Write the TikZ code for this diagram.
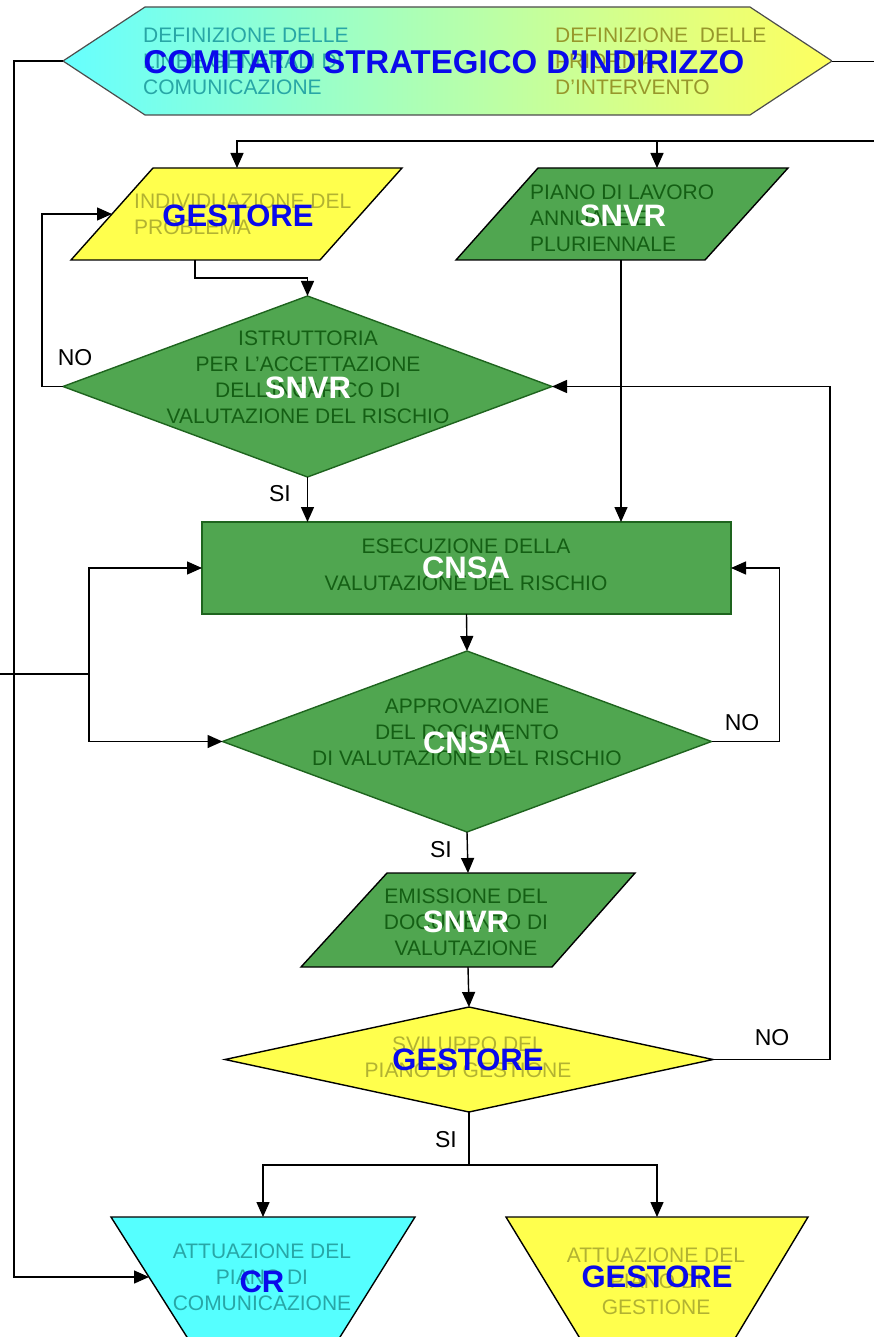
\documentclass[tikz,border=0pt]{standalone}
\usepackage{fontspec}
\setmainfont{Liberation Sans}
\usepackage{xcolor}
\usepackage{tikz}
\usetikzlibrary{positioning,shapes.geometric,shapes.symbols,arrows.meta}
\definecolor{azzurro}{RGB}{85,255,255}
\definecolor{giallo}{RGB}{255,255,77}
\definecolor{verde}{RGB}{80,166,80}
\definecolor{verdescuro}{RGB}{20,95,20}
\definecolor{bordoverde}{RGB}{30,100,30}
\definecolor{oliva}{RGB}{178,178,50}
\definecolor{petrolio}{RGB}{40,166,166}
\definecolor{blu}{RGB}{10,10,235}
\tikzset{
	linea/.style = {line width=1.4pt, draw=black},
	freccia/.style = {linea, -{Triangle[length=15pt,width=13pt]}},
	blocco/.style = {line width=1.4pt, draw=black, line join=miter},
	rombo/.style = {diamond, minimum width=489pt, minimum height=181pt, inner sep=0, outer sep=0, line width=1.4pt},
	esagono/.style = {signal, signal to=west and east, signal pointer angle=66.7, minimum width=769pt, minimum height=108pt, inner sep=0, outer sep=0, draw=black!70, line width=1.2pt},
	piccolo/.style = {font=\fontsize{21}{26}\selectfont, inner sep=0, align=center},
	grande/.style = {font=\fontsize{31}{36}\selectfont\bfseries, inner sep=0},
	etichetta/.style = {font=\fontsize{23}{26}\selectfont, inner sep=0}
}
\begin{document}
\begin{tikzpicture}[x=1pt, y=-1pt]
	\useasboundingbox (0,0) rectangle (874,1337);
	\clip (0,0) rectangle (874,1337);
	
	% comitato
	\node [esagono, left color=azzurro!90!white, right color=giallo!90!white] (0) at (447.5,61) {};
	\node [piccolo, align=left, anchor=west, text=petrolio] (0a) at (143,61) {DEFINIZIONE DELLE\\LINEE GENERALI DI\\COMUNICAZIONE};
	\node [piccolo, align=left, anchor=west, text=oliva!85!black] (0b) at (555,61) {DEFINIZIONE~ DELLE\\PRIORIT\`A\\D'INTERVENTO};
	\node [grande, font=\fontsize{33}{38}\selectfont\bfseries, text=blu] (0c) at (444,62) {COMITATO STRATEGICO D'INDIRIZZO};
	
	% prima riga
	\draw [blocco, fill=giallo] (71,260) -- (153,168) -- (402,168) -- (320,260) -- cycle;
	\coordinate (1n) at (237,168);
	\coordinate (1s) at (195,260);
	\coordinate (1w) at (112,214);
	\node [piccolo, align=left, anchor=west, text=oliva] (1a) at (134,214) {INDIVIDUAZIONE DEL\\PROBLEMA};
	\node [grande, text=blu] (1b) at (238,216) {GESTORE};
	\draw [blocco, fill=verde] (456,260) -- (538,168) -- (788,168) -- (705,260) -- cycle;
	\coordinate (2n) at (657,168);
	\coordinate (2s) at (621,260);
	\node [piccolo, align=left, anchor=west, text=verdescuro] (2a) at (530,218) {PIANO DI LAVORO\\ANNUALE E\\PLURIENNALE};
	\node [grande, text=white] (2b) at (623,216) {SNVR};
	
	% istruttoria
	\node [rombo, fill=verde, draw=bordoverde] (3) at (307.5,386.5) {};
	\node [piccolo, text=verdescuro] (3a) at (308,377) {ISTRUTTORIA\\PER L'ACCETTAZIONE\\DELL'INCARICO DI\\VALUTAZIONE DEL RISCHIO};
	\node [grande, text=white] (3b) at (308,388) {SNVR};
	
	% esecuzione
	\node [rectangle, fill=verde, draw=bordoverde, line width=1.8pt, minimum width=529pt, minimum height=92pt, inner sep=0, outer sep=0] (5) at (466.5,568) {};
	\node [piccolo, text=verdescuro] (5a) at (466,565) {ESECUZIONE DELLA\\[11pt]VALUTAZIONE DEL RISCHIO};
	\node [grande, text=white] (5b) at (466,568) {CNSA};
	
	% approvazione
	\node [rombo, fill=verde, draw=bordoverde] (6) at (467,741.5) {};
	\node [piccolo, text=verdescuro] (6a) at (467,732) {APPROVAZIONE\\DEL DOCUMENTO\\DI VALUTAZIONE DEL RISCHIO};
	\node [grande, text=white] (6b) at (467,743) {CNSA};
	
	% emissione
	\draw [blocco, fill=verde] (301,967) -- (387,873) -- (635,873) -- (552,967) -- cycle;
	\coordinate (7n) at (468,873);
	\coordinate (7s) at (468,967);
	\node [piccolo, text=verdescuro] (7a) at (466,922) {EMISSIONE DEL\\DOCUMENTO DI\\VALUTAZIONE};
	\node [grande, text=white] (7b) at (466,922) {SNVR};
	
	% sviluppo
	\node [rombo, fill=giallo, draw=black, minimum width=488pt, minimum height=105pt] (8) at (469,1059.5) {};
	\node [piccolo, text=oliva] (8a) at (468,1057) {SVILUPPO DEL\\PIANO DI GESTIONE};
	\node [grande, text=blu] (8b) at (468,1060) {GESTORE};
	
	% attuazione
	\draw [blocco, fill=azzurro] (111,1217) -- (415,1217) -- (335,1345) -- (192,1345) -- cycle;
	\coordinate (9n) at (263,1217);
	\coordinate (9w) at (149,1277);
	\node [piccolo, text=petrolio] (9a) at (262,1277) {ATTUAZIONE DEL\\PIANO DI\\COMUNICAZIONE};
	\node [grande, text=blu] (9b) at (262,1282) {CR};
	\draw [blocco, fill=giallo] (506,1217) -- (808,1217) -- (731,1345) -- (584,1345) -- cycle;
	\coordinate (10n) at (657,1217);
	\node [piccolo, text=oliva] (10a) at (656,1281) {ATTUAZIONE DEL\\PIANO DI\\GESTIONE};
	\node [grande, text=blu] (10b) at (657,1277) {GESTORE};
	
	% etichette
	\node [etichetta] (n1) at (75,358) {NO};
	\node [etichetta] (s1) at (280,494) {SI};
	\node [etichetta] (n2) at (742,723) {NO};
	\node [etichetta] (s2) at (441,850) {SI};
	\node [etichetta] (n3) at (772,1038) {NO};
	\node [etichetta] (s3) at (446,1140) {SI};
	
	% collegamenti
	\coordinate (dx0) at (874,61);
	\coordinate (dx1) at (874,141);
	\coordinate (sx0) at (0,674);
	\coordinate (sx1) at (89,674);
	\draw [line width=0.9pt, double, double distance=1pt] (0.east) -- (dx0);
	\draw [freccia] (dx1) -| (1n);
	\draw [freccia] (2n |- dx1) -- (2n);
	\draw [freccia] (1s) -- ++(0,18) -| (3.north);
	\draw [freccia] (3.west) -- ++(-21,0) |- (1w);
	\draw [freccia] (3.south) -- (3.south |- 5.north);
	\draw [freccia] (2s) -- (2s |- 5.north);
	\draw [freccia] (5.south) -- (6.north);
	\draw [freccia] (6.east) -- ++(68,0) |- (5.east);
	\draw [linea] (sx0) -- (sx1);
	\draw [freccia] (sx1) |- (5.west);
	\draw [freccia] (sx1) |- (6.west);
	\draw [freccia] (6.south) -- (7n);
	\draw [freccia] (7s) -- (8.north);
	\draw [freccia] (8.east) -- ++(117,0) |- (3.east);
	\draw [linea] (8.south) -- ++(0,53) coordinate (bivio);
	\draw [freccia] (bivio) -| (9n);
	\draw [freccia] (bivio) -| (10n);
	\draw [freccia] (0.west) -- ++(-49,0) |- (9w);
\end{tikzpicture}
\end{document}
